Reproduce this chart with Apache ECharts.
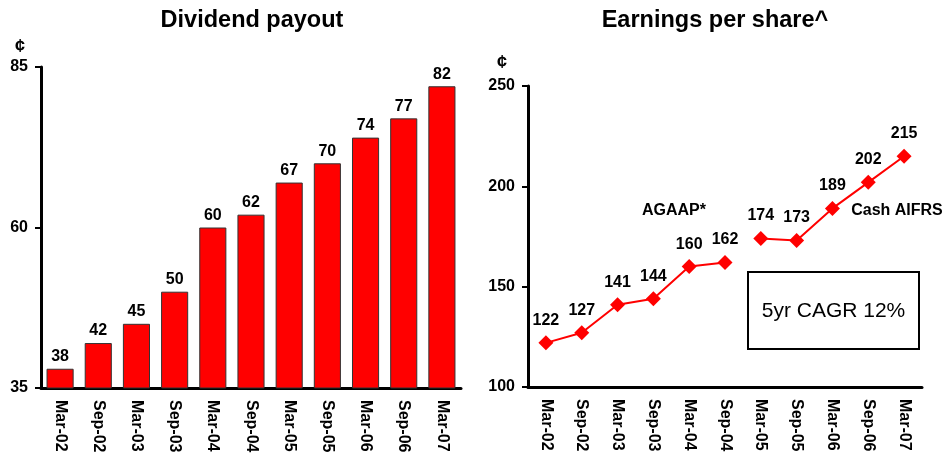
<!DOCTYPE html>
<html>
<head>
<meta charset="utf-8">
<script src="https://cdn.jsdelivr.net/npm/echarts@6/dist/echarts.min.js"></script>
<style>
  html, body { margin: 0; padding: 0; background: #fff; }
  #main { width: 944px; height: 457px; }
</style>
</head>
<body>
<div id="main"></div>
<script>
// half-year periods
const categories = ['Mar-02', 'Sep-02', 'Mar-03', 'Sep-03', 'Mar-04', 'Sep-04', 'Mar-05', 'Sep-05', 'Mar-06', 'Sep-06', 'Mar-07']
// dividend payout, cents
const dividend = [38, 42, 45, 50, 60, 62, 67, 70, 74, 77, 82]
// earnings per share, cents (AGAAP up to Sep-04, cash AIFRS from Mar-05)
const epsAgaap = [122, 127, 141, 144, 160, 162]
const epsAifrs = [174, 173, 189, 202, 215]
// y axis tick labels
const dividendTicks = [35, 60, 85]
const epsTicks = [100, 150, 200, 250]

const aifrsStart = categories.indexOf('Mar-05')
const agaapData = categories.map((c, i) => i < epsAgaap.length ? epsAgaap[i] : '-')
const aifrsData = categories.map((c, i) => i >= aifrsStart ? epsAifrs[i - aifrsStart] : '-')

const font = 'Arial, "Liberation Sans", sans-serif'
const boldText = { color: '#000', fontFamily: font, fontWeight: 'bold', fontSize: 16 }

const chart = echarts.init(document.getElementById('main'))

const xAxisCommon = {
  type: 'category',
  data: categories,
  axisLine: { lineStyle: { color: '#000', width: 3 } },
  axisTick: { show: false },
  axisLabel: Object.assign({ rotate: -90, margin: 12, interval: 0 }, boldText)
}

// ticks taken from the label arrays (ticks are counted from min)
function valueAxis(ticks, gridIndex, nameGap, namePad) {
  return {
    type: 'value',
    gridIndex: gridIndex,
    min: ticks[0],
    max: ticks[ticks.length - 1],
    interval: ticks[1] - ticks[0],
    axisLine: { show: true, lineStyle: { color: '#000', width: 3 } },
    axisTick: { show: true, inside: false, length: 6, lineStyle: { color: '#000', width: 2 } },
    splitLine: { show: false },
    axisLabel: Object.assign({ margin: 13 }, boldText),
    name: '¢',
    nameLocation: 'end',
    nameGap: nameGap,
    nameTextStyle: Object.assign({}, boldText, { fontSize: 18, align: 'right', verticalAlign: 'middle', padding: [0, namePad, 0, 0] })
  }
}

chart.setOption({
  animation: false,
  textStyle: { fontFamily: font },
  title: [{
    text: 'Dividend payout',
    left: 252,
    top: 9,
    padding: 0,
    textAlign: 'center',
    textStyle: { color: '#000', fontFamily: font, fontWeight: 'bold', fontSize: 23.5 }
  }, {
    text: 'Earnings per share^',
    left: 715,
    top: 9,
    padding: 0,
    textAlign: 'center',
    textStyle: { color: '#000', fontFamily: font, fontWeight: 'bold', fontSize: 23.5 }
  }],
  grid: [
    { left: 41, right: 483, top: 67, bottom: 69 },
    { left: 528, right: 22, top: 86, bottom: 70 }
  ],
  xAxis: [
    Object.assign({ gridIndex: 0 }, xAxisCommon),
    Object.assign({ gridIndex: 1 }, xAxisCommon)
  ],
  yAxis: [
    valueAxis(dividendTicks, 0, 20, 16),
    valueAxis(epsTicks, 1, 23, 21)
  ],
  series: [{
    name: 'Dividend payout',
    type: 'bar',
    xAxisIndex: 0,
    yAxisIndex: 0,
    data: dividend,
    barCategoryGap: '29%',
    itemStyle: { color: '#ff0000', borderColor: '#333', borderWidth: 1 },
    label: Object.assign({ show: true, position: 'top', distance: 4 }, boldText)
  }, {
    name: 'AGAAP*',
    type: 'line',
    xAxisIndex: 1,
    yAxisIndex: 1,
    data: agaapData,
    symbol: 'diamond',
    symbolSize: 15,
    lineStyle: { color: '#ff0000', width: 2 },
    itemStyle: { color: '#ff0000' },
    label: Object.assign({ show: true, position: 'top', distance: 7 }, boldText)
  }, {
    name: 'Cash AIFRS',
    type: 'line',
    xAxisIndex: 1,
    yAxisIndex: 1,
    data: aifrsData,
    symbol: 'diamond',
    symbolSize: 15,
    lineStyle: { color: '#ff0000', width: 2 },
    itemStyle: { color: '#ff0000' },
    label: Object.assign({ show: true, position: 'top', distance: 7 }, boldText)
  }],
  graphic: [{
    type: 'text',
    x: 674,
    y: 211,
    style: { text: 'AGAAP*', align: 'center', verticalAlign: 'middle', fill: '#000', font: 'bold 16px ' + font }
  }, {
    type: 'text',
    x: 897,
    y: 211,
    style: { text: 'Cash AIFRS', align: 'center', verticalAlign: 'middle', fill: '#000', font: 'bold 16px ' + font }
  }, {
    type: 'group',
    left: 747,
    top: 271,
    children: [{
      type: 'rect',
      shape: { x: 0, y: 0, width: 171, height: 77 },
      style: { fill: '#fff', stroke: '#000', lineWidth: 2 }
    }, {
      type: 'text',
      x: 85.5,
      y: 39,
      style: { text: '5yr CAGR 12%', align: 'center', verticalAlign: 'middle', fill: '#000', font: '21px ' + font }
    }]
  }]
})
</script>
</body>
</html>
